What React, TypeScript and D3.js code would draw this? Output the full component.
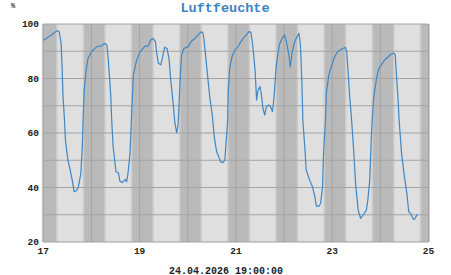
import React from "react";
import * as d3 from "d3";

const title = "Luftfeuchte";
const unitLabel = "%";
const footer = "24.04.2026 19:00:00";
const xTicks = [17, 19, 21, 23, 25];
const yTicks = [20, 40, 60, 80, 100];
const yGrid = [30, 40, 50, 60, 70, 80, 90, 100];
const xGrid = [17, 18, 19, 20, 21, 22, 23, 24, 25];
const nightStart = 0.85; // fraction of day (~20:25)
const nightEnd = 0.265; // fraction of day (~06:20)

const times = [
  17.0, 17.14, 17.24, 17.29, 17.33, 17.37, 17.39, 17.41, 17.44, 17.46, 17.51, 17.55, 17.6, 17.64, 17.69, 17.73, 17.78, 17.81, 17.83, 17.85, 17.89, 17.93,
  18.0, 18.11, 18.21, 18.27, 18.32, 18.35, 18.4, 18.42, 18.45, 18.51, 18.56, 18.59, 18.64, 18.7, 18.73, 18.76, 18.8, 18.83, 18.87, 18.94,
  19.01, 19.11, 19.18, 19.23, 19.28, 19.33, 19.35, 19.39, 19.44, 19.48, 19.52, 19.57, 19.61, 19.65, 19.7, 19.73, 19.77, 19.8, 19.84, 19.87, 19.92,
  20.01, 20.08, 20.15, 20.22, 20.27, 20.31, 20.33, 20.37, 20.41, 20.46, 20.51, 20.55, 20.6, 20.63, 20.68, 20.73, 20.77, 20.8, 20.83, 20.84, 20.87, 20.92, 20.98,
  21.05, 21.08, 21.15, 21.22, 21.27, 21.31, 21.34, 21.37, 21.4, 21.43, 21.46, 21.5, 21.53, 21.56, 21.6, 21.63, 21.68, 21.72, 21.76, 21.79, 21.84, 21.9, 21.96,
  22.01, 22.05, 22.1, 22.13, 22.17, 22.22, 22.27, 22.31, 22.34, 22.37, 22.38, 22.39, 22.43, 22.46, 22.53, 22.59, 22.64, 22.67, 22.73, 22.76, 22.8, 22.82, 22.86, 22.88, 22.93, 22.98,
  23.04, 23.1, 23.17, 23.22, 23.27, 23.3, 23.33, 23.36, 23.4, 23.45, 23.49, 23.54, 23.59, 23.64, 23.71, 23.74, 23.78, 23.81, 23.83, 23.86, 23.92, 23.97,
  24.02, 24.09, 24.16, 24.23, 24.28, 24.31, 24.33, 24.37, 24.39, 24.44, 24.5, 24.55, 24.59, 24.63, 24.68, 24.71, 24.75, 24.77,
];
const humidity = [
  94, 95.6, 97, 97.5, 97.2, 92.9, 84.3, 73.3, 64.8, 57.4, 50.1, 47.1, 42.8, 38.5, 38.8, 40.3, 45.2, 55, 66, 75.8, 83.1, 87.4,
  89.8, 91.7, 92, 92.9, 92.3, 86.8, 74, 65, 55, 45.8, 45.4, 42.4, 41.8, 43, 42.1, 45.2, 52.5, 64.8, 81.3, 86.8,
  89.8, 91.9, 91.9, 94.1, 94.7, 93.5, 89.8, 85.6, 85, 88, 91.5, 91, 87.4, 78.8, 70.3, 64.1, 60, 63, 78.8, 88.6, 91,
  91.7, 93.8, 94.7, 96, 97, 97, 95.3, 88.6, 81.3, 72.7, 66.6, 58.6, 53.1, 51.9, 49.5, 49.1, 50.1, 57.4, 64.8, 75.2, 83.7, 88, 90.5,
  91.7, 92.9, 94.7, 96, 97.2, 97, 93.5, 88.6, 82.5, 72.1, 75.8, 77, 74, 69.1, 66.6, 69.6, 70.3, 69.6, 67.8, 72.7, 85, 92.3, 94.7,
  96, 93.5, 88.6, 84.3, 89.8, 93.5, 95.3, 96.6, 92.3, 78.8, 72, 64.8, 55, 46.4, 42.8, 40.3, 36.6, 33.2, 33.2, 34.2, 40.3, 52.5, 64.8, 75, 81.3, 84.3,
  87.4, 89.6, 90.5, 91, 91.4, 90.1, 82.5, 74, 65.5, 52.5, 40.3, 31.7, 28.7, 29.9, 31.7, 35.4, 42.8, 57.4, 64.8, 72.7, 80, 83.7,
  85, 86.8, 88, 89, 89.3, 88.6, 82.5, 71.5, 64.8, 52.5, 44, 37.9, 31.1, 30.5, 28.4, 28.4, 29.6, 30.2,
];

export default function App() {
  const W = 451;
  const H = 275;
  const x = d3.scaleLinear().domain([17, 25]).range([43.3, 428.5]);
  const y = d3.scaleLinear().domain([20, 100]).range([242, 24]);
  const [x0, x1] = x.range();
  const [yb, yt] = y.range();

  const pts: [number, number][] = times.map((t, i) => [t, humidity[i]]);
  const line = d3
    .line<[number, number]>()
    .x((d) => x(d[0]))
    .y((d) => y(d[1]));

  // night bands
  const bands: { a: number; b: number }[] = [];
  for (let d = 16; d <= 25; d++) {
    const a = Math.max(17, d + nightStart);
    const b = Math.min(25, d + 1 + nightEnd);
    if (b > a) bands.push({ a, b });
  }

  const mono = "'Liberation Mono', 'DejaVu Sans Mono', monospace";

  return (
    <svg
      width={W}
      height={H}
      style={{ position: "absolute", left: 0, top: 0, background: "#fff" }}
    >
      <rect x={x0} y={yt} width={x1 - x0} height={yb - yt} fill="#dfdfdf" />
      {bands.map((bd, i) => {
        const xa = x(bd.a);
        const xb = x(bd.b);
        return (
          <g key={i}>
            <rect x={xa - 1.5} y={yt} width={xb - xa + 3} height={yb - yt} fill="#cdcdcd" />
            <rect x={xa} y={yt} width={xb - xa} height={yb - yt} fill="#bababa" />
          </g>
        );
      })}
      <rect x={x0} y={yb - 0} width={0} height={0} />
      {yGrid.map((v) => (
        <line key={"h" + v} x1={x0} x2={x1} y1={y(v)} y2={y(v)} stroke="#a4a4a4" strokeWidth={1} />
      ))}
      {xGrid.map((t) => (
        <line key={"v" + t} x1={x(t)} x2={x(t)} y1={yt} y2={yb} stroke="#a4a4a4" strokeWidth={1} />
      ))}
      <line x1={x0} x2={x1} y1={yb} y2={yb} stroke="#a0a0a0" strokeWidth={1.2} />
      <path d={line(pts) || ""} fill="none" stroke="#3f86c4" strokeWidth={1.2} strokeLinejoin="round" />
      {yTicks.map((v) => (
        <text
          key={"yt" + v}
          x={39}
          y={y(v)}
          dy="0.35em"
          textAnchor="end"
          fontFamily={mono}
          fontWeight="bold"
          fontSize={9.5}
          fill="#222"
        >
          {v}
        </text>
      ))}
      {xTicks.map((t) => (
        <text
          key={"xt" + t}
          x={x(t)}
          y={253.5}
          textAnchor="middle"
          fontFamily={mono}
          fontWeight="bold"
          fontSize={9.5}
          fill="#222"
        >
          {t}
        </text>
      ))}
      <text x={13} y={8} textAnchor="middle" fontFamily={mono} fontWeight="bold" fontSize={7} fill="#333">
        {unitLabel}
      </text>
      <text x={225} y={12} textAnchor="middle" fontFamily={mono} fontWeight="bold" fontSize={13.5} fill="#3d84c4">
        {title}
      </text>
      <text x={226} y={273.5} textAnchor="middle" fontFamily={mono} fontWeight="bold" fontSize={10} fill="#222">
        {footer}
      </text>
    </svg>
  );
}
